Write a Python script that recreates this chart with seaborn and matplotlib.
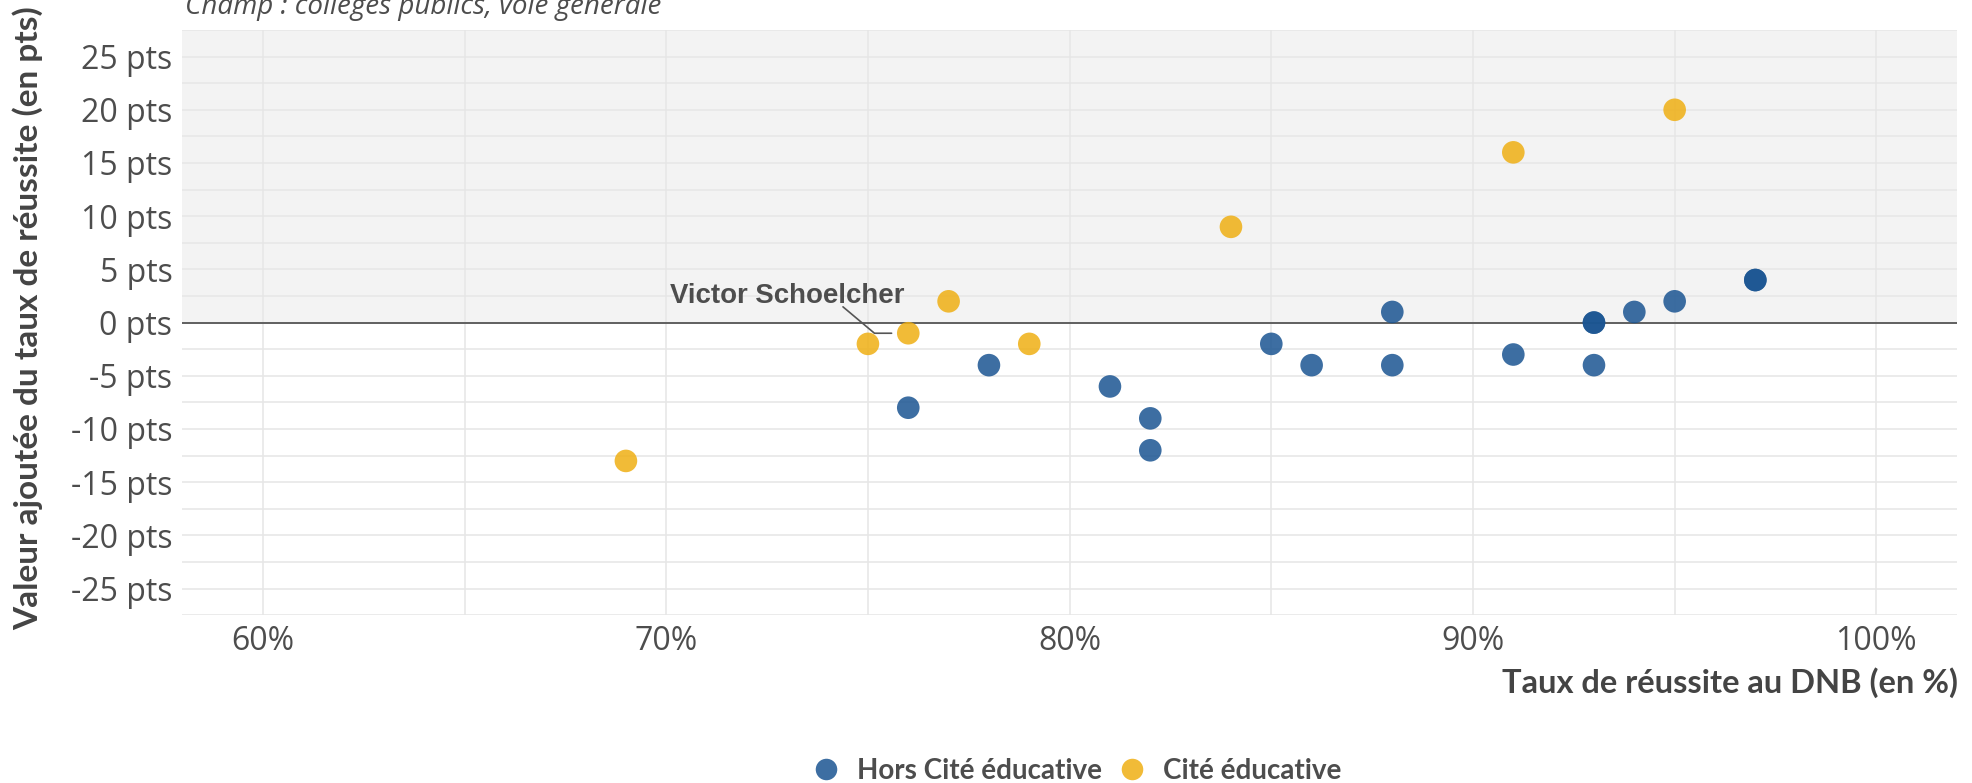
import matplotlib
matplotlib.use("Agg")
import matplotlib.pyplot as plt
import matplotlib.ticker as mticker
import seaborn as sns
import pandas as pd

# Collèges publics, voie générale: taux de réussite au DNB vs valeur ajoutée
hors_x = [76, 78, 81, 82, 82, 85, 86, 88, 88, 91, 93, 93, 93, 94, 95, 97, 97]
hors_y = [-8, -4, -6, -9, -12, -2, -4, -4, 1, -3, 0, 0, -4, 1, 2, 4, 4]
cite_x = [69, 75, 76, 77, 79, 84, 91, 95]
cite_y = [-13, -2, -1, 2, -2, 9, 16, 20]
groups = ["Hors Cité éducative", "Cité éducative"]
colors = ["#1b5592", "#efaf14"]

highlight_name = "Victor Schoelcher"
highlight_x, highlight_y = 76, -1

subtitle = "Champ : collèges publics, voie générale"
x_title = "Taux de réussite au DNB (en %)"
y_title = "Valeur ajoutée du taux de réussite (en pts)"
x_ticks = [60, 70, 80, 90, 100]
y_ticks = [-25, -20, -15, -10, -5, 0, 5, 10, 15, 20, 25]

df = pd.DataFrame({
    "taux": hors_x + cite_x,
    "va": hors_y + cite_y,
    "groupe": [groups[0]] * len(hors_x) + [groups[1]] * len(cite_x),
})

sns.set_theme(style="white")
plt.rcParams["font.family"] = ["Open Sans", "DejaVu Sans"]

TXT = "#4d4d4d"
GRID = "#e6e6e6"

fig = plt.figure(figsize=(19.72, 7.83), dpi=100)
ax = fig.add_axes([0.0924, 0.2143, 0.9000, 0.7474])

ax.set_xlim(58, 102)
ax.set_ylim(-27.5, 27.5)

# shaded half-plane for positive added value
ax.axhspan(0, 27.5, color="#f3f3f3", zorder=0, lw=0)

ax.xaxis.set_major_locator(mticker.FixedLocator(x_ticks))
ax.xaxis.set_minor_locator(mticker.MultipleLocator(5))
ax.yaxis.set_major_locator(mticker.FixedLocator(y_ticks))
ax.yaxis.set_minor_locator(mticker.MultipleLocator(2.5))
ax.xaxis.set_major_formatter(mticker.FuncFormatter(lambda v, p: f"{v:.0f}%"))
ax.yaxis.set_major_formatter(mticker.FuncFormatter(lambda v, p: f"{v:.0f} pts"))
ax.grid(True, which="both", color=GRID, lw=1.1, zorder=1)
ax.set_axisbelow(True)
for s in ax.spines.values():
    s.set_visible(False)
ax.tick_params(axis="both", which="both", length=0, labelsize=23, labelcolor=TXT)
ax.tick_params(axis="y", pad=7)
ax.tick_params(axis="x", pad=7)

ax.axhline(0, color="#555555", lw=1.3, zorder=2)

sns.scatterplot(data=df, x="taux", y="va", hue="groupe", hue_order=groups,
                palette=colors, s=265, alpha=0.85, linewidth=0, ax=ax,
                legend=False, zorder=3)

# labelled college with leader line
ax.annotate("", xy=(highlight_x, highlight_y), xytext=(-47, 19),
            textcoords="offset points",
            arrowprops=dict(arrowstyle="-", color="#555555", lw=1.2,
                            shrinkA=0, shrinkB=12,
                            connectionstyle="angle,angleA=-40,angleB=0,rad=0"),
            zorder=4)
ax.annotate(highlight_name, xy=(highlight_x, highlight_y), xytext=(-87, 26.5),
            textcoords="offset points", ha="center", va="center",
            fontsize=19.9, fontweight="bold", color=TXT,
            family=["Liberation Sans", "DejaVu Sans"], zorder=5)

ax.set_xlabel(x_title, loc="right", fontsize=23.5, fontweight="bold",
              color="#444444", family=["Lato", "DejaVu Sans"], va="center")
ax.xaxis.set_label_coords(1.0007, -0.1159)
ax.set_ylabel(y_title, fontsize=24, fontweight="bold", color="#444444",
              family=["Lato", "DejaVu Sans"], va="center", ha="center")
ax.yaxis.set_label_coords(-0.0869, 0.508)

fig.text(0.0938, 0.9826, subtitle, fontsize=20, style="italic", color=TXT,
         va="baseline", ha="left")

handles = [plt.Line2D([], [], marker="o", ls="", markersize=15.5,
                      markerfacecolor=c, markeredgewidth=0, alpha=0.85)
           for c in colors]
fig.legend(handles, groups, loc="center", bbox_to_anchor=(0.546, 0.0155),
           ncol=2, frameon=False, handletextpad=0.6, columnspacing=0.6,
           handlelength=1.0,
           prop={"family": ["Lato", "DejaVu Sans"], "weight": "bold", "size": 20},
           labelcolor=TXT)

fig.savefig("out.png", dpi=100)
